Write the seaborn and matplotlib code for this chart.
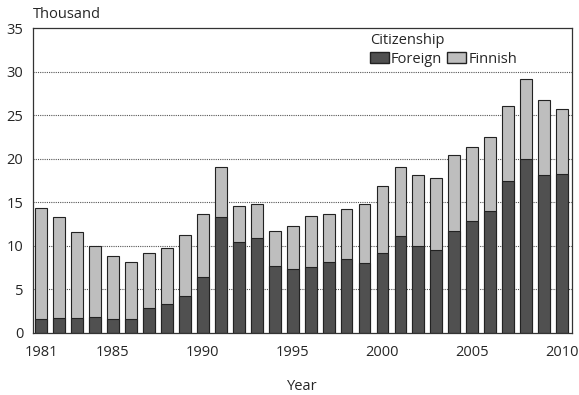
import numpy as np
import pandas as pd
import matplotlib
matplotlib.use("Agg")
import matplotlib.pyplot as plt
import seaborn as sns
from matplotlib.patches import Patch

years = list(range(1981, 2011))
total = [14.3, 13.3, 11.6, 10.0, 8.8, 8.1, 9.15, 9.7, 11.2, 13.6,
         19.0, 14.6, 14.8, 11.65, 12.3, 13.4, 13.65, 14.2, 14.8, 16.9,
         19.0, 18.1, 17.8, 20.4, 21.4, 22.5, 26.0, 29.1, 26.75, 25.7]
foreign = [1.66, 1.7, 1.7, 1.8, 1.6, 1.6, 2.85, 3.3, 4.2, 6.45,
           13.3, 10.4, 10.9, 7.65, 7.4, 7.55, 8.2, 8.45, 8.0, 9.2,
           11.1, 10.0, 9.5, 11.65, 12.9, 13.95, 17.5, 20.0, 18.1, 18.3]
label_years = [1981, 1985, 1990, 1995, 2000, 2005, 2010]

df = pd.DataFrame({"year": years, "total": total, "foreign": foreign})

sns.set_style("white")
plt.rcParams['font.family'] = ['Open Sans', 'DejaVu Sans']
fs = 10.5

fig, ax = plt.subplots(figsize=(5.79, 3.95), dpi=100)
fig.subplots_adjust(left=0.057, right=0.988, top=0.929, bottom=0.157)

dark = "#505050"
light = "#bebebe"

# stacked: totals first (light), foreign drawn over the bottom part
sns.barplot(data=df, x="year", y="total", color=light, edgecolor="#222222",
            linewidth=0.8, width=0.66, saturation=1, ax=ax)
sns.barplot(data=df, x="year", y="foreign", color=dark, edgecolor="#222222",
            linewidth=0.8, width=0.66, saturation=1, ax=ax)

ax.set_ylim(0, 35)
ax.set_xlim(-0.45, 29.55)
ax.set_yticks(np.arange(0, 36, 5))
ax.set_yticklabels([str(v) for v in range(0, 36, 5)], fontsize=fs)
ax.set_xticks(range(len(years)))
ax.set_xticklabels([str(y) if y in label_years else "" for y in years], fontsize=fs)
ax.tick_params(axis="x", length=6, width=0.8, color="#333333", pad=3)
ax.tick_params(axis="y", length=0, pad=7)

for v in range(5, 35, 5):
    ax.axhline(v, color="#555555", linestyle=(0, (1, 1)), linewidth=0.8, zorder=0)
ax.set_axisbelow(True)

for s in ax.spines.values():
    s.set_color("#333333")
    s.set_linewidth(0.9)

ax.set_xlabel("Year", fontsize=fs, labelpad=13)
ax.set_ylabel("")
ax.text(0.0, 1.02, "Thousand", transform=ax.transAxes, fontsize=fs, va="bottom", ha="left")

handles = [Patch(facecolor=dark, edgecolor="#222222", label="Foreign"),
           Patch(facecolor=light, edgecolor="#222222", label="Finnish")]
leg = ax.legend(handles=handles, title="Citizenship", ncol=2, frameon=False,
                loc="upper left", bbox_to_anchor=(0.625, 0.985), fontsize=fs,
                title_fontsize=fs, handlelength=1.3, handleheight=0.75,
                handletextpad=0.15, columnspacing=0.35, borderaxespad=0,
                borderpad=0, labelspacing=0.2)
leg._legend_box.align = "left"
leg._legend_box.sep = 3

fig.savefig("out.png", dpi=100)
